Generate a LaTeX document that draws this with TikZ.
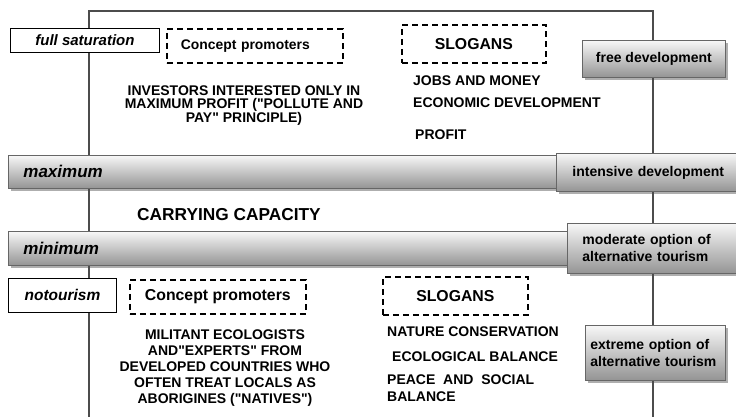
\documentclass[tikz,border=0pt]{standalone}
\usepackage{fontspec}
\setmainfont{Liberation Sans}[Ligatures=TeXOff]
\usetikzlibrary{shadows}
\begin{document}
\begin{tikzpicture}[x=1pt,y=-1pt,
  frame/.style={draw=black!70, line width=1.3pt},
  shbox/.style={draw=black!60, line width=0.8pt, top color=black!3, bottom color=black!42,
    drop shadow={shadow xshift=2.5pt, shadow yshift=-3pt, opacity=0.45, fill=black!70},
    anchor=north west, inner ysep=0pt, font=\fontsize{14}{17}\selectfont\bfseries},
  bar/.style={shbox, inner xsep=15pt, align=left, font=\fontsize{17}{17}\selectfont\bfseries\itshape},
  wbox/.style={draw=black, line width=0.9pt, fill=white, anchor=north west, inner sep=0pt,
    font=\fontsize{15}{15}\selectfont\bfseries\itshape},
  dbox/.style={draw=black, line width=1.7pt, dash pattern=on 6pt off 4pt, anchor=north west,
    inner sep=0pt, font=\fontsize{15.8}{16}\selectfont\bfseries},
  txt/.style={inner sep=0pt, font=\fontsize{14}{14}\selectfont\bfseries},
]
\useasboundingbox (0,0) rectangle (736,417);
% frame
\draw[frame] (89,417) -- (89,11) -- (653,11) -- (653,417);
% bars
\node[bar, text width=540pt, minimum height=33pt] (maxbar) at (8,155) {maximum};
\node[bar, text width=540pt, minimum height=34pt] (minbar) at (8,231) {minimum};
% right shaded boxes
\node[shbox, minimum width=143pt, minimum height=37pt] (free) at (582,40) {free development};
\node[shbox, inner xsep=16pt, text width=170pt, align=left, minimum height=38pt] (intens) at (556,153) {intensive development};
\node[shbox, inner xsep=15pt, text width=170pt, align=left, minimum height=50pt] (moder) at (567,223) {moderate option of\\alternative tourism};
\node[shbox, inner xsep=5pt, text width=130pt, align=left, minimum height=55pt] (extreme) at (585,325) {extreme option of\\alternative tourism};
% white boxes
\node[wbox, minimum width=149pt, minimum height=24pt] (fullsat) at (10,28) {full saturation};
\node[wbox, minimum width=108pt, minimum height=34pt, font=\fontsize{15.5}{15.5}\selectfont\bfseries\itshape] (notour) at (8,278) {notourism};
% dashed boxes
\node[dbox, inner xsep=14pt, text width=148pt, align=left, minimum height=34pt, font=\fontsize{13.9}{14}\selectfont\bfseries] (cp1) at (166,28) {Concept promoters};
\node[dbox, minimum width=144pt, minimum height=38pt] (sl1) at (401,24) {SLOGANS};
\node[dbox, minimum width=176pt, minimum height=34pt] (cp2) at (129,279) {Concept promoters};
\node[dbox, minimum width=145pt, minimum height=38pt] (sl2) at (382,276) {SLOGANS};
% texts
\node[txt, align=center, font=\fontsize{14}{13.8}\selectfont\bfseries] (investors) at (244,105.5) {INVESTORS INTERESTED ONLY IN\\MAXIMUM PROFIT ("POLLUTE AND\\PAY" PRINCIPLE)};
\node[txt, anchor=west] (jobs) at (413,81) {JOBS AND MONEY};
\node[txt, anchor=west] (econ) at (413,103) {ECONOMIC DEVELOPMENT};
\node[txt, anchor=west] (profit) at (415,135) {PROFIT};
\node[txt, anchor=west, font=\fontsize{17.3}{17.3}\selectfont\bfseries] (cc) at (137,215) {CARRYING CAPACITY};
\node[txt, align=center, font=\fontsize{14}{15.8}\selectfont\bfseries] (militant) at (225,368) {MILITANT ECOLOGISTS\\AND"EXPERTS" FROM\\DEVELOPED COUNTRIES WHO\\OFTEN TREAT LOCALS AS\\ABORIGINES ("NATIVES")};
\node[txt, anchor=west] (nature) at (387,332) {NATURE CONSERVATION};
\node[txt, anchor=west] (ecol) at (392,357) {ECOLOGICAL BALANCE};
\node[txt, anchor=north west, align=left, font=\fontsize{14}{17}\selectfont\bfseries] (peace) at (387,375) {PEACE\ \ AND\ \ SOCIAL\\BALANCE};
\end{tikzpicture}
\end{document}
